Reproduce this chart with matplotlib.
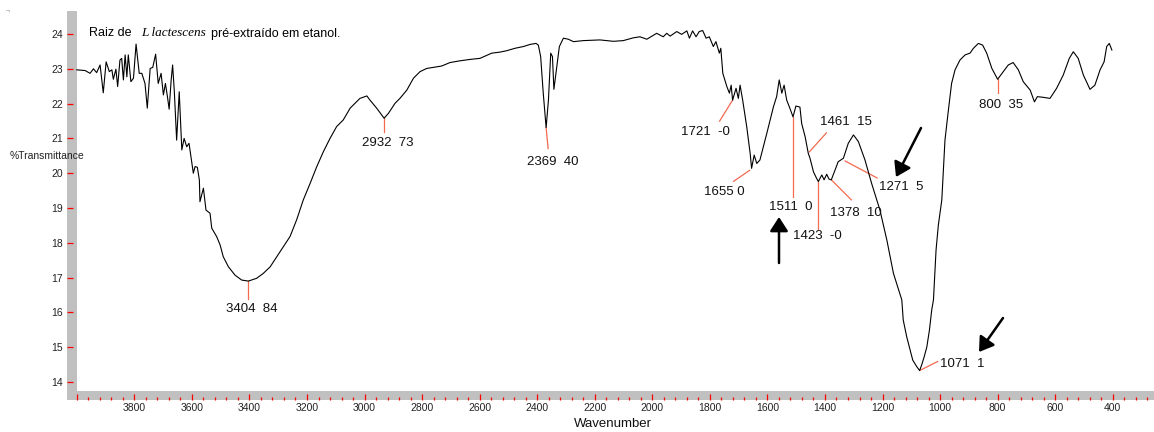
import numpy as np
import matplotlib
matplotlib.use('Agg')
import matplotlib.pyplot as plt
from matplotlib.ticker import FixedLocator, MultipleLocator, FuncFormatter

plt.rcParams['font.family'] = ['Liberation Sans', 'DejaVu Sans']

# IR spectrum (wavenumber, %T)
wavenumber = [4000, 3971, 3954, 3942, 3931, 3919, 3908, 3898, 3887, 3878, 3873, 3864, 3858, 3850,
              3844, 3838, 3832, 3826, 3821, 3812, 3803, 3794, 3783, 3774, 3763, 3755, 3745, 3736,
              3726, 3717, 3707, 3699, 3692, 3685, 3679, 3672, 3667, 3661, 3653, 3644, 3635, 3627,
              3618, 3610, 3600, 3595, 3589, 3581, 3574, 3572, 3560, 3551, 3537, 3531, 3514, 3502,
              3491, 3473, 3450, 3427, 3404, 3375, 3352, 3328, 3305, 3282, 3259, 3236, 3213, 3189,
              3166, 3143, 3120, 3097, 3074, 3050, 3016, 2992, 2981, 2958, 2932, 2917, 2894, 2877,
              2853, 2830, 2807, 2784, 2761, 2732, 2703, 2668, 2633, 2599, 2558, 2529, 2506, 2477,
              2448, 2425, 2404, 2396, 2388, 2379, 2369, 2361, 2353, 2347, 2342, 2332, 2323, 2309,
              2292, 2274, 2240, 2182, 2135, 2101, 2066, 2043, 2019, 1985, 1962, 1950, 1938, 1915,
              1898, 1880, 1871, 1860, 1848, 1837, 1825, 1813, 1802, 1788, 1779, 1767, 1762, 1755,
              1741, 1732, 1726, 1721, 1709, 1701, 1695, 1686, 1672, 1660, 1655, 1646, 1637, 1626,
              1602, 1579, 1568, 1559, 1550, 1542, 1533, 1524, 1511, 1501, 1487, 1481, 1469, 1458,
              1452, 1440, 1429, 1423, 1411, 1403, 1394, 1386, 1378, 1365, 1354, 1336, 1319, 1301,
              1284, 1261, 1238, 1209, 1185, 1162, 1133, 1128, 1116, 1104, 1095, 1081, 1071, 1064,
              1055, 1046, 1037, 1029, 1023, 1014, 1006, 994, 983, 971, 960, 948, 931, 913,
              896, 884, 867, 852, 838, 820, 800, 780, 763, 746, 728, 711, 687, 672,
              662, 641, 618, 595, 572, 551, 537, 520, 502, 479, 462, 444, 430, 421,
              412, 403]
transmittance = [22.97, 22.95, 22.87, 23.00, 22.89, 23.11, 22.31, 23.20, 22.92, 22.97, 22.70, 22.99, 22.49, 23.25,
                 23.30, 22.68, 23.40, 22.77, 23.40, 22.63, 22.73, 23.71, 22.87, 22.87, 22.58, 21.87, 23.01, 23.04,
                 23.42, 22.58, 22.87, 22.25, 22.58, 22.20, 21.84, 22.68, 23.11, 22.34, 20.95, 22.34, 20.67, 21.00,
                 20.76, 20.86, 20.28, 20.00, 20.19, 20.17, 19.80, 19.18, 19.57, 18.94, 18.85, 18.42, 18.18, 17.94,
                 17.60, 17.31, 17.07, 16.93, 16.90, 16.98, 17.12, 17.31, 17.60, 17.89, 18.18, 18.66, 19.23, 19.71,
                 20.19, 20.62, 21.00, 21.34, 21.53, 21.87, 22.15, 22.22, 22.10, 21.87, 21.58, 21.72, 22.01, 22.15,
                 22.39, 22.73, 22.92, 23.01, 23.04, 23.08, 23.18, 23.23, 23.27, 23.30, 23.45, 23.48, 23.52, 23.59,
                 23.64, 23.70, 23.73, 23.68, 23.35, 22.30, 21.31, 22.10, 23.45, 23.35, 22.41, 23.06, 23.64, 23.88,
                 23.85, 23.78, 23.81, 23.83, 23.79, 23.81, 23.89, 23.92, 23.85, 24.02, 23.92, 24.02, 23.94, 24.07,
                 23.99, 24.09, 23.88, 24.09, 23.92, 24.07, 24.10, 23.88, 23.92, 23.64, 23.78, 23.45, 23.59, 22.87,
                 22.49, 22.30, 22.53, 22.10, 22.44, 22.15, 22.53, 22.10, 21.34, 20.57, 20.14, 20.52, 20.28, 20.38,
                 21.15, 21.91, 22.20, 22.68, 22.30, 22.53, 22.10, 21.91, 21.62, 21.93, 21.90, 21.43, 21.05, 20.57,
                 20.43, 20.04, 19.85, 19.76, 19.95, 19.81, 19.97, 19.83, 19.81, 20.09, 20.33, 20.43, 20.86, 21.10,
                 20.91, 20.38, 19.71, 18.94, 18.08, 17.12, 16.36, 15.78, 15.30, 14.92, 14.63, 14.44, 14.33, 14.49,
                 14.73, 15.01, 15.49, 16.07, 16.36, 17.79, 18.51, 19.23, 20.95, 21.82, 22.58, 22.97, 23.25, 23.40,
                 23.45, 23.59, 23.73, 23.68, 23.45, 23.01, 22.70, 22.92, 23.11, 23.18, 22.97, 22.63, 22.39, 22.05,
                 22.20, 22.18, 22.15, 22.44, 22.82, 23.30, 23.49, 23.30, 22.82, 22.41, 22.53, 22.97, 23.20, 23.64,
                 23.73, 23.54]

# picked peaks
peak_wn = [3404, 2932, 2369, 1721, 1655, 1511, 1461, 1423, 1378, 1271, 1071, 800]
peak_t = [16.90, 21.58, 21.31, 22.10, 20.14, 21.62, 20.70, 19.76, 19.81, 20.61, 14.33, 22.70]
peak_labels = ['3404  84', '2932  73', '2369  40', '1721  -0', '1655 0', '1511  0',
               '1461  15', '1423  -0', '1378  10', '1271  5', '1071  1', '800  35']

# label layout in pixels: line start, line end, text (left, middle)
line_start = [(0, 0), (0, 0), (0, 0), (0, 0), (-2, -2), (0, 0), (2, -3), (0, 0), (0, 0), (-17, -9), (0, 0), (0, 0)]
line_end = [(0, -18), (0, -14), (2, -21), (-13, -21), (-18, -13), (0, -80), (19, 16), (0, -47), (20, -20),
            (15, -26), (18, 9), (0, -14)]
text_off = [(-22, -28), (-22, -25), (-19, -34), (-52, -32), (-48, -24), (-24, -90), (13, 27), (-25, -54),
            (-1, -33), (17, -35), (20, 7), (-19, -26)]

W, H = 1154, 432
fig = plt.figure(figsize=(W / 100, H / 100), dpi=100)
ax = fig.add_axes([67 / W, 1 - 400 / H, 1 - 67 / W, 389 / H])

xmin, xmax = 4034, 256.6
ymin, ymax = 13.483, 24.661
ax.set_xlim(xmin, xmax)
ax.set_ylim(ymin, ymax)

# grey frame bands
ax.axvspan(xmin, 4000, color='#c0c0c0', lw=0, zorder=0)
ax.axhspan(ymin, 13.741, color='#c0c0c0', lw=0, zorder=0)

ax.plot(wavenumber, transmittance, color='black', lw=0.8, zorder=3)

red = '#f26a4f'
for i in range(len(peak_wn)):
    w, t = peak_wn[i], peak_t[i]
    p0 = ax.transData.transform((w, t))
    a = ax.transData.inverted().transform((p0[0] + line_start[i][0], p0[1] + line_start[i][1]))
    b = ax.transData.inverted().transform((p0[0] + line_end[i][0], p0[1] + line_end[i][1]))
    ax.plot([a[0], b[0]], [a[1], b[1]], color=red, lw=0.9, zorder=2)
    ax.annotate(peak_labels[i], xy=(w, t), xytext=text_off[i], textcoords='offset pixels',
                ha='left', va='center', fontsize=9.5, color='#111111')

# arrows
arrows = [((779, 169), (779, 215)), ((921, 304), (896, 255)), ((1003, 114), (979, 80))]
for tail, tip in arrows:
    ax.annotate('', xy=tip, xycoords='figure pixels', xytext=tail, textcoords='figure pixels',
                arrowprops=dict(arrowstyle='-|>,head_length=0.85,head_width=0.55', color='black',
                                lw=1.8, shrinkA=0, shrinkB=0, mutation_scale=10))

for s in ax.spines.values():
    s.set_visible(False)

ax.xaxis.set_major_locator(FixedLocator(np.arange(4000, 300, -200)))
ax.xaxis.set_minor_locator(MultipleLocator(40))
ax.xaxis.set_major_formatter(FuncFormatter(lambda v, p: '' if v >= 4000 else '%d' % v))
ax.yaxis.set_major_locator(FixedLocator(np.arange(14, 25)))
ax.tick_params(axis='x', which='major', direction='in', length=4.3, width=0.9, color='red',
               labelsize=7.5, pad=2.5, labelcolor='#222222')
ax.tick_params(axis='x', which='minor', direction='in', length=2.5, width=0.9, color='red')
ax.tick_params(axis='y', which='major', direction='in', length=4.3, width=0.9, color='red',
               labelsize=7.5, pad=3, labelcolor='#222222')

fig.text(574 / W, 1 - 424 / H, 'Wavenumber', fontsize=9.5, ha='left', va='center', color='#111111')
fig.text(10 / W, 1 - 156 / H, '%Transmittance', fontsize=7.5, ha='left', va='center', color='#222222')
fig.text(6 / W, 1 - 12 / H, '¬', fontsize=5, ha='left', va='center', color='#888888')

fig.text(89 / W, 1 - 33.5 / H, 'Raiz de', fontsize=9, ha='left', va='center')
fig.text(141.5 / W, 1 - 33.5 / H, 'L lactescens', fontsize=9.5, ha='left', va='center',
         family='Liberation Serif', style='italic')
fig.text(211 / W, 1 - 33.5 / H, 'pré-extraído em etanol.', fontsize=9, ha='left', va='center')

fig.savefig('out.png', dpi=100)
